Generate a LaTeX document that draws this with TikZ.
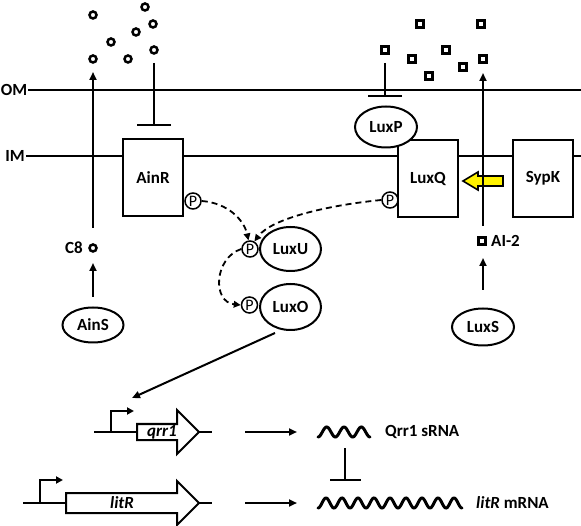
\documentclass[tikz,border=0pt]{standalone}
\usepackage{fontspec}
\setmainfont{Carlito}
\usetikzlibrary{arrows.meta,shapes.geometric}
\begin{document}
\begin{tikzpicture}[x=1pt,y=-1pt,
  lbl/.style={font=\bfseries\fontsize{17}{19}\selectfont, inner sep=1pt},
  ln/.style={line width=2pt},
  arr/.style={ln,-{Triangle[length=8pt,width=7pt]}},
  inh/.style={ln,-{Bar[width=34pt]}},
  dsh/.style={line width=1.8pt, dash pattern=on 6pt off 4pt, -{Triangle[length=7pt,width=6.5pt]}},
  box/.style={draw, ln, fill=white, minimum width=60pt, minimum height=77pt, lbl},
  oval/.style={ellipse, draw, ln, fill=white, minimum width=61pt, minimum height=40pt, lbl},
  phos/.style={circle, draw, line width=1.5pt, fill=white, minimum size=16pt, inner sep=0pt, font=\fontsize{16}{16}\selectfont},
  mcirc/.style={circle, draw, line width=2.5pt, minimum size=7pt, inner sep=0pt},
  msq/.style={rectangle, draw, line width=2.3pt, minimum size=7pt, inner sep=0pt},
  gene/.style={draw, ln, fill=white},
  wave/.style={line width=3pt, line cap=round}
]
\useasboundingbox (0,0) rectangle (581,526);

% membranes
\node[lbl] (om) at (14,90) {OM};
\node[lbl] (im) at (15,156) {IM};
\coordinate (omR) at (581,90);
\coordinate (imR) at (581,156);
\draw[ln] (om.east) -- (omR);
\draw[ln] (im.east) -- (imR);

% C8 molecules
\foreach \n/\p in {1/{(93,15)},2/{(111,42)},3/{(93,59)},4/{(136,32)},5/{(145,7)},6/{(153,24)},7/{(128,59)},8/{(154,50)}}
  \node[mcirc] (c\n) at \p {};
% AI-2 molecules
\foreach \n/\p in {1/{(420,24)},2/{(481,24)},3/{(385,50)},4/{(412,59)},5/{(446,50)},6/{(429,76)},7/{(463,67)},8/{(483,59)}}
  \node[msq] (s\n) at \p {};

% boxes
\node[box] (ainr) at (153,178) {AinR};
\node[box] (luxq) at (428,178.5) {LuxQ};
\node[box] (sypk) at (543,178.5) {SypK};
\node[oval, minimum width=62pt, minimum height=41pt] (luxp) at (386,127) {LuxP};

% inhibitions at the top
\coordinate (ai0) at (154,63);
\coordinate (ai1) at (154,126);
\draw[inh] (ai0) -- (ai1);
\coordinate (lp0) at (385,63);
\coordinate (lp1) at (385,97);
\draw[inh] (lp0) -- (lp1);

% yellow arrow (SypK -> LuxQ)
\draw[line width=1.6pt, fill=yellow, line join=miter]
  (463,181) -- (478,172) -- (478,176) -- (503,176) -- (503,186) -- (478,186) -- (478,190) -- cycle;

% C8 side
\node[mcirc] (c8) at (93,248) {};
\node[lbl, anchor=east] (c8l) at (84,248) {C8};
\node[oval, minimum width=61pt, minimum height=35pt] (ains) at (93,325) {AinS};
\coordinate (c8a) at (93,228);
\coordinate (c8b) at (93,72);
\draw[arr] (c8a) -- (c8b);
\coordinate (ainsT) at (93,297);
\coordinate (c8B) at (93,263);
\draw[arr] (ainsT) -- (c8B);

% AI-2 side
\node[msq] (ai2) at (482,241) {};
\node[lbl, anchor=west] (ai2l) at (490,241) {AI-2};
\node[oval, minimum width=62pt, minimum height=37pt] (luxs) at (483,327) {LuxS};
\coordinate (ai2a) at (483,226);
\coordinate (ai2b) at (483,73);
\draw[arr] (ai2a) -- (ai2b);
\coordinate (luxsT) at (483,290);
\coordinate (ai2B) at (483,258);
\draw[arr] (luxsT) -- (ai2B);

% phosphorelay
\node[oval, minimum width=61pt, minimum height=44pt] (luxu) at (290.5,249) {LuxU};
\node[oval, minimum width=61pt, minimum height=46pt] (luxo) at (290.5,307) {LuxO};
\node[phos] (pa) at (193,201) {P};
\node[phos] (pq) at (390,200) {P};
\node[phos] (pu) at (250,249) {P};
\node[phos] (po) at (249.5,305) {P};
\draw[dsh] (pa.east) .. controls (228,203) and (244,220) .. (pu.100);
\draw[dsh] (pq.west) .. controls (330,205) and (272,218) .. (pu.60);
\draw[dsh] (pu.west) .. controls (214,258) and (212,302) .. (po.west);

% LuxO -> qrr1
\coordinate (o1) at (275,333);
\coordinate (o2) at (132,398);
\draw[arr] (o1) -- (o2);

% genes
\draw[ln] (94,432) -- (137,432);
\draw[ln, -{Triangle[length=7pt,width=7pt]}] (111,432) -- (111,411) -- (134,411);
\draw[gene] (137,424) -- (177,424) -- (177,410) -- (199,432) -- (177,454) -- (177,440) -- (137,440) -- cycle;
\draw[ln] (199,432) -- (212,432);
\node[font=\bfseries\itshape\fontsize{17}{19}\selectfont] (qrr) at (162,432) {qrr1};

\draw[ln] (23,503) -- (66,503);
\draw[ln, -{Triangle[length=7pt,width=7pt]}] (40,503) -- (40,480) -- (63,480);
\draw[gene] (66,493) -- (177,493) -- (177,481) -- (199,503) -- (177,525) -- (177,513) -- (66,513) -- cycle;
\draw[ln] (199,503) -- (212,503);
\node[font=\bfseries\itshape\fontsize{17}{19}\selectfont] (lit) at (122,503) {litR};

% transcription arrows
\coordinate (t1a) at (245,432); \coordinate (t1b) at (297,432);
\coordinate (t2a) at (245,503); \coordinate (t2b) at (297,503);
\draw[arr] (t1a) -- (t1b);
\draw[arr] (t2a) -- (t2b);

% RNA waves
\draw[wave] plot[domain=0:1080, samples=120] ({318+\x/1080*52}, {432+5*cos(\x)});
\draw[wave] plot[domain=0:3240, samples=300] ({318+\x/3240*144}, {503+5*cos(\x)});
\node[lbl, anchor=west] (qs) at (384,432) {Qrr1 sRNA};
\node[lbl, anchor=west] (lm) at (475,503) {\textit{litR} mRNA};
\coordinate (r1) at (345,448);
\coordinate (r2) at (345,481);
\draw[ln, -{Bar[width=31pt]}] (r1) -- (r2);
\end{tikzpicture}
\end{document}
